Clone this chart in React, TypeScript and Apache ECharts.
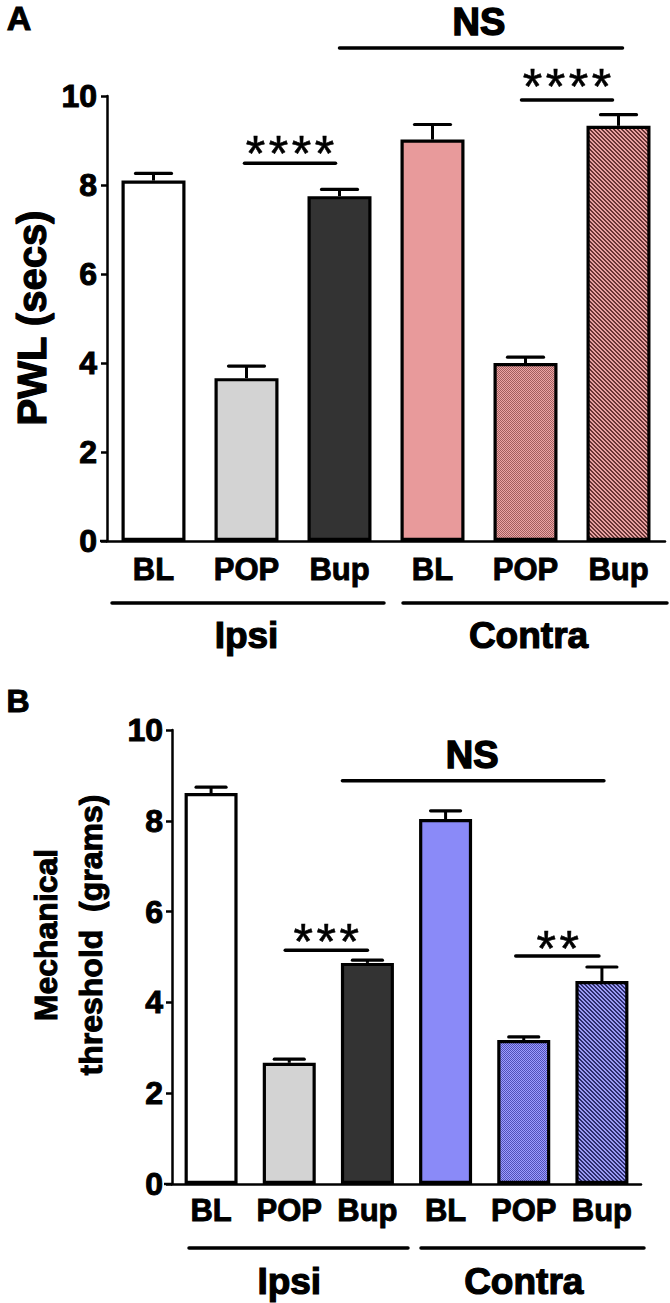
import React, { useEffect, useRef } from "react";
import * as echarts from "echarts";

const categories = ["BL", "POP", "Bup", "BL", "POP", "Bup"];
const groupNames = ["Ipsi", "Contra"];
const yTickValues = [0, 2, 4, 6, 8, 10];

// Panel A: paw withdrawal latency (secs)
const pwlMeans = [8.1, 3.66, 7.75, 9.02, 4.0, 9.33];
const pwlSEM = [0.16, 0.27, 0.15, 0.34, 0.13, 0.25];

// Panel B: mechanical threshold (grams)
const mechMeans = [8.61, 2.67, 4.87, 8.04, 3.17, 4.47];
const mechSEM = [0.13, 0.08, 0.06, 0.18, 0.07, 0.31];

const FONT = "'Liberation Sans', Arial, sans-serif";

function makeChecker(bg: string, fg: string) {
  const c = document.createElement("canvas");
  c.width = 2;
  c.height = 2;
  const ctx = c.getContext("2d")!;
  ctx.fillStyle = bg;
  ctx.fillRect(0, 0, 2, 2);
  ctx.fillStyle = fg;
  ctx.fillRect(0, 0, 1, 1);
  ctx.fillRect(1, 1, 1, 1);
  return c;
}

function makeStripes(bg: string, fg: string) {
  const n = 4;
  const c = document.createElement("canvas");
  c.width = n;
  c.height = n;
  const ctx = c.getContext("2d")!;
  ctx.fillStyle = bg;
  ctx.fillRect(0, 0, n, n);
  ctx.fillStyle = fg;
  for (let y = 0; y < n; y++) {
    for (let x = 0; x < n; x++) {
      const d = (((x - y) % n) + n) % n;
      if (d === 0 || d === 1) ctx.fillRect(x, y, 1, 1);
    }
  }
  return c;
}

export default function App() {
  const ref = useRef<HTMLDivElement>(null);

  useEffect(() => {
    const chart = echarts.init(ref.current!, null, { renderer: "svg" });

    const pinkChecker = makeChecker("#eca6a6", "#a25f5f");
    const pinkStripes = makeStripes("#e9a2a2", "#6a3535");
    const blueChecker = makeChecker("#9c9cff", "#5050b8");
    const blueStripes = makeStripes("#9a9af5", "#2c2c6e");

    const fillsA: any[] = [
      "#ffffff",
      "#d3d3d3",
      "#333333",
      "#e89a9b",
      { image: pinkChecker, repeat: "repeat" },
      { image: pinkStripes, repeat: "repeat" },
    ];
    const fillsB: any[] = [
      "#ffffff",
      "#d3d3d3",
      "#333333",
      "#8a8af8",
      { image: blueChecker, repeat: "repeat" },
      { image: blueStripes, repeat: "repeat" },
    ];

    const axisColor = "#000";

    const makeXAxis = (gridIndex: number, fontSize: number, margin: number) => ({
      type: "category",
      gridIndex,
      data: categories,
      axisLine: { lineStyle: { color: axisColor, width: 2.5 } },
      axisTick: { alignWithLabel: true, length: 8, lineStyle: { color: axisColor, width: 2.5 } },
      axisLabel: {
        color: "#000",
        fontSize,
        fontWeight: "bold",
        fontFamily: FONT,
        margin,
        interval: 0,
        textBorderColor: "#000",
        textBorderWidth: 0.9,
      },
      splitLine: { show: false },
    });

    const makeYAxis = (gridIndex: number, fontSize: number, margin: number) => ({
      type: "value",
      gridIndex,
      min: yTickValues[0],
      max: yTickValues[yTickValues.length - 1],
      interval: 2,
      axisLine: { show: true, lineStyle: { color: axisColor, width: 2.5 } },
      axisTick: { show: true, length: 6, lineStyle: { color: axisColor, width: 2.5 } },
      axisLabel: {
        color: "#000",
        fontSize,
        fontWeight: "bold",
        fontFamily: FONT,
        margin,
        textBorderColor: "#000",
        textBorderWidth: 1,
      },
      splitLine: { show: false },
    });

    const errorSeries = (idx: number, means: number[], sem: number[], cap: number) => ({
      type: "custom",
      xAxisIndex: idx,
      yAxisIndex: idx,
      z: 1,
      data: means.map((m, i) => [i, m, m + sem[i]]),
      renderItem: (_p: any, api: any) => {
        const x = api.value(0);
        const lo = api.coord([x, api.value(1)]);
        const hi = api.coord([x, api.value(2)]);
        return {
          type: "group",
          children: [
            {
              type: "line",
              shape: { x1: lo[0], y1: lo[1], x2: hi[0], y2: hi[1] },
              style: { stroke: "#000", lineWidth: 3 },
            },
            {
              type: "line",
              shape: { x1: hi[0] - cap / 2, y1: hi[1], x2: hi[0] + cap / 2, y2: hi[1] },
              style: { stroke: "#000", lineWidth: 3.2, lineCap: "round" },
            },
          ],
        };
      },
    });

    const barSeries = (idx: number, means: number[], fills: any[], width: number) => ({
      type: "bar",
      xAxisIndex: idx,
      yAxisIndex: idx,
      barWidth: width,
      z: 2,
      data: means.map((m, i) => ({
        value: m,
        itemStyle: { color: fills[i], borderColor: "#000", borderWidth: 3.2 },
      })),
    });

    chart.setOption({
      animation: false,
      backgroundColor: "#ffffff",
      grid: [
        { left: 107, width: 558, top: 96, height: 445 },
        { left: 172, width: 469, top: 730, height: 454 },
      ],
      xAxis: [makeXAxis(0, 31, 13), makeXAxis(1, 31, 11)],
      yAxis: [makeYAxis(0, 32, 10), makeYAxis(1, 32, 9)],
      series: [
        barSeries(0, pwlMeans, fillsA, 64),
        errorSeries(0, pwlMeans, pwlSEM, 36),
        barSeries(1, mechMeans, fillsB, 53),
        errorSeries(1, mechMeans, mechSEM, 30),
      ],
    });

    const P = (g: number, x: number, y: number) =>
      chart.convertToPixel({ xAxisIndex: g, yAxisIndex: g } as any, [x, y]) as number[];

    const gfx: any[] = [];
    const hline = (x1: number, x2: number, y: number, w = 3.5) =>
      gfx.push({
        type: "line",
        shape: { x1, y1: y, x2, y2: y },
        style: { stroke: "#000", lineWidth: w, lineCap: "round" },
      });
    const text = (
      s: string,
      x: number,
      y: number,
      size: number,
      weight = "bold",
      rotation = 0,
      stroke = 1
    ) =>
      gfx.push({
        type: "text",
        x,
        y,
        rotation,
        style: {
          text: s,
          fill: "#000",
          stroke: stroke > 0 ? "#000" : undefined,
          lineWidth: stroke,
          font: `${weight} ${size}px ${FONT}`,
          align: "center",
          verticalAlign: "middle",
        },
      });
    // asterisks: centre (cx, cy) of the row of glyphs
    const stars = (n: number, cx: number, cy: number) => {
      const pitch = 23;
      const size = 50;
      for (let k = 0; k < n; k++) {
        const x = cx + (k - (n - 1) / 2) * pitch;
        text("*", x, cy + 6, size, "normal", 0, 0.6);
      }
    };

    // panel letters
    text("A", 19, 18, 34);
    text("B", 18, 701, 32);

    // y titles
    text("PWL (secs)", 32, 318, 40, "bold", Math.PI / 2, 1.2);
    text("Mechanical", 46, 935, 32, "bold", Math.PI / 2, 1);
    text("threshold  (grams)", 91, 935, 32, "bold", Math.PI / 2, 1);

    // x-axis extension left of y axis
    {
      const a0 = P(0, 0, 0);
      gfx.push({ type: "line", shape: { x1: 100, y1: a0[1], x2: 107, y2: a0[1] }, style: { stroke: "#000", lineWidth: 2.5 } });
      const b0 = P(1, 0, 0);
      gfx.push({ type: "line", shape: { x1: 164, y1: b0[1], x2: 172, y2: b0[1] }, style: { stroke: "#000", lineWidth: 2.5 } });
    }

    // Panel A significance
    {
      const l = P(0, 2, 11.08);
      const r = P(0, 5, 11.08);
      hline(l[0], r[0] + 4, l[1]);
      text("NS", (l[0] + r[0]) / 2, 22, 38, "bold", 0, 1.5);
      const a = P(0, 4, 9.91);
      const b = P(0, 5, 9.91);
      hline(a[0] - 4, b[0] - 6, a[1]);
      stars(4, (a[0] + b[0]) / 2 - 5, a[1] - 19);
      const c = P(0, 1, 8.49);
      const d = P(0, 2, 8.49);
      hline(c[0] - 2, d[0] - 4, c[1]);
      stars(4, (c[0] + d[0]) / 2 - 3, c[1] - 15);
    }

    // Panel B significance
    {
      const l = P(1, 2, 8.88);
      const r = P(1, 5, 8.88);
      hline(l[0] - 25, r[0] + 2, l[1]);
      text("NS", (l[0] - 25 + r[0]) / 2, l[1] - 26, 38, "bold", 0, 1.5);
      const a = P(1, 1, 5.15);
      const b = P(1, 2, 5.15);
      hline(a[0] - 4, b[0], a[1]);
      stars(3, (a[0] + b[0]) / 2 - 2, a[1] - 14);
      const c = P(1, 4, 5.02);
      const d = P(1, 5, 5.02);
      hline(c[0] - 8, d[0] - 3, c[1]);
      stars(2, (c[0] + d[0]) / 2 - 5, c[1] - 13);
    }

    // Group lines & labels
    {
      const a0 = P(0, 0, 0);
      const y = a0[1] + 62;
      const i1 = P(0, 1, 0)[0];
      const i4 = P(0, 4, 0)[0];
      hline(112, 384, y);
      hline(403, 667, y);
      text(groupNames[0], i1, y + 32, 37, "bold", 0, 1.2);
      text(groupNames[1], i4 + 3, y + 32, 37, "bold", 0, 1.2);

      const b0 = P(1, 0, 0);
      const yb = b0[1] + 64;
      const j1 = P(1, 1, 0)[0];
      const j4 = P(1, 4, 0)[0];
      hline(189, 408, yb);
      hline(421, 644, yb);
      text(groupNames[0], j1, yb + 33, 37, "bold", 0, 1.2);
      text(groupNames[1], j4, yb + 33, 37, "bold", 0, 1.2);
    }

    chart.setOption({ graphic: gfx });

    return () => chart.dispose();
  }, []);

  return (
    <div
      ref={ref}
      style={{ position: "absolute", left: 0, top: 0, width: 670, height: 1303, background: "#fff" }}
    />
  );
}
